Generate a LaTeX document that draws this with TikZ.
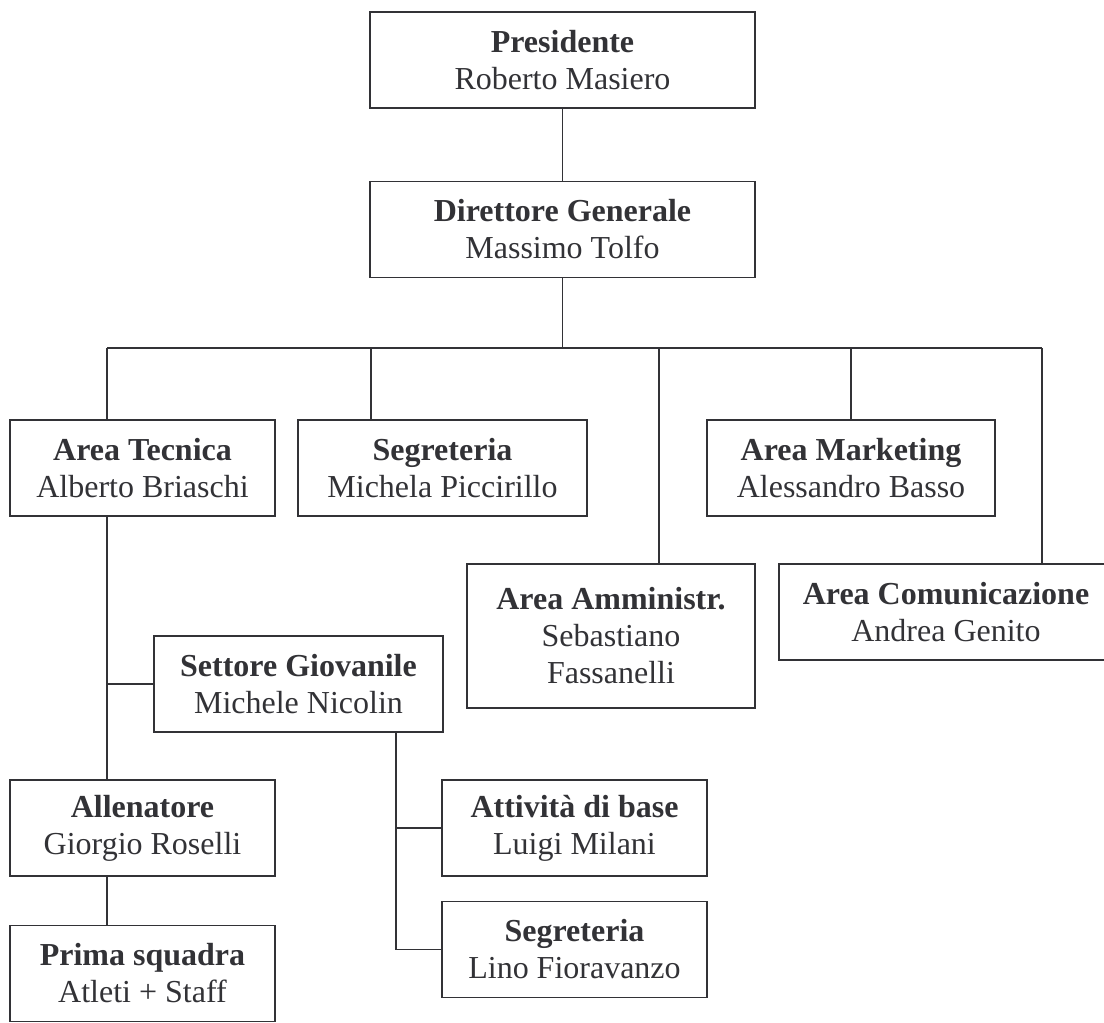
\documentclass[tikz,border=0pt]{standalone}
\usepackage{fontspec}
\setmainfont{Liberation Serif}
\usetikzlibrary{positioning}
\definecolor{OrgLine}{RGB}{50,50,54}

\tikzset{
	ruolo/.style={draw=OrgLine, line width=1.4pt, text=OrgLine, align=center,
		inner sep=0pt, minimum width=265pt, minimum height=96pt,
		font=\fontsize{32}{37}\selectfont},
	filo/.style={draw=OrgLine, line width=1.4pt},
}

\begin{document}
\begin{tikzpicture}[x=1pt, y=-1pt]
	\useasboundingbox (0,0) rectangle (1104,1023);
	% vertici
	\node[ruolo, minimum width=385pt] (pres) at (562.5,60) {\textbf{Presidente}\\Roberto Masiero};
	\node[ruolo, minimum width=385pt, below=72pt of pres] (dg) {\textbf{Direttore Generale}\\Massimo Tolfo};
	% aree sotto la direzione
	\node[ruolo] (tec) at (142.5,468) {\textbf{Area Tecnica}\\Alberto Briaschi};
	\node[ruolo, minimum width=289pt] (segr) at (442.5,468) {\textbf{Segreteria}\\Michela Piccirillo};
	\node[ruolo, minimum width=288pt] (mkt) at (851,468) {\textbf{Area Marketing}\\Alessandro Basso};
	\node[ruolo, minimum width=288pt, minimum height=144pt] (amm) at (611,636) {\textbf{Area Amministr.}\\Sebastiano\\Fassanelli};
	\node[ruolo, minimum width=334pt] (com) at (946,612) {\textbf{Area Comunicazione}\\Andrea Genito};
	% area tecnica
	\node[ruolo, minimum width=289pt] (giov) at (298.5,684) {\textbf{Settore Giovanile}\\Michele Nicolin};
	\node[ruolo] (all) at (142.5,828) {\textbf{Allenatore}\\Giorgio Roselli};
	\node[ruolo, below=48pt of all] (prima) {\textbf{Prima squadra}\\Atleti + Staff};
	\node[ruolo] (att) at (574.5,828) {\textbf{Attività di base}\\Luigi Milani};
	\node[ruolo, below=24pt of att] (segr2) {\textbf{Segreteria}\\Lino Fioravanzo};

	% collegamenti
	\foreach \n/\x in {tec/107, segr/371, amm/659, mkt/851, com/1042}{
		\coordinate (d\n) at (\x,348);
		\draw[filo] (d\n) -- (d\n |- \n.north);
	}
	\draw[filo] (pres) -- (dg);
	\draw[filo] (dg) -- (dg.south |- dtec);
	\draw[filo] (dtec) -- (dcom);
	\draw[filo] (dtec |- tec.south) -- (dtec |- all.north);
	\draw[filo] (dtec |- giov.west) -- (giov.west);
	\draw[filo] (dtec |- all.south) -- (dtec |- prima.north);
	% settore giovanile
	\coordinate (sg) at (396,732);
	\draw[filo] (sg) -- (sg |- segr2.west) -- (segr2.west);
	\draw[filo] (sg |- att.west) -- (att.west);
\end{tikzpicture}
\end{document}
